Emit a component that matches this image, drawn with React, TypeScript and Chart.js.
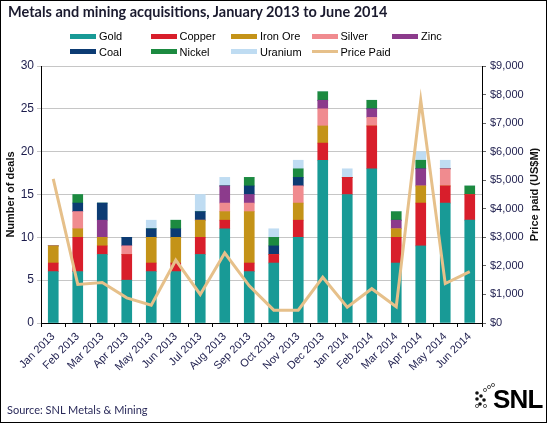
import { useEffect, useRef } from "react";
import { Chart, registerables } from "chart.js";

Chart.register(...registerables);

const months = [
  "Jan 2013", "Feb 2013", "Mar 2013", "Apr 2013", "May 2013", "Jun 2013",
  "Jul 2013", "Aug 2013", "Sep 2013", "Oct 2013", "Nov 2013", "Dec 2013",
  "Jan 2014", "Feb 2014", "Mar 2014", "Apr 2014", "May 2014", "Jun 2014",
];

// number of deals per metal, stacked bottom to top
const gold = [6, 6, 8, 5, 6, 6, 8, 11, 6, 7, 10, 19, 15, 18, 7, 9, 14, 12];
const copper = [1, 4, 1, 3, 1, 1, 2, 1, 1, 1, 2, 2, 2, 5, 3, 5, 2, 3];
const ironOre = [2, 1, 1, 0, 3, 3, 2, 1, 6, 0, 2, 2, 0, 0, 1, 2, 0, 0];
const silver = [0, 2, 0, 1, 0, 0, 0, 1, 1, 0, 2, 2, 0, 1, 0, 0, 2, 0];
const zinc = [0, 0, 2, 0, 0, 0, 0, 2, 1, 0, 0, 1, 0, 1, 1, 2, 0, 0];
const coal = [0, 1, 2, 1, 1, 1, 1, 0, 1, 1, 1, 0, 0, 0, 0, 0, 0, 0];
const nickel = [0, 1, 0, 0, 0, 1, 0, 0, 1, 1, 1, 1, 0, 1, 1, 1, 0, 1];
const uranium = [0, 0, 0, 0, 1, 0, 2, 1, 0, 1, 1, 0, 1, 0, 0, 1, 1, 0];

// price paid, US$M
const pricePaid = [
  5050, 1350, 1420, 880, 620, 2200, 1000, 2450, 1300, 450, 450, 1600,
  550, 1200, 570, 7800, 1380, 1800,
];

const metals = [
  { label: "Gold", data: gold, color: "#189a96" },
  { label: "Copper", data: copper, color: "#d81e2b" },
  { label: "Iron Ore", data: ironOre, color: "#c49318" },
  { label: "Silver", data: silver, color: "#f08b8f" },
  { label: "Zinc", data: zinc, color: "#8c3b8c" },
  { label: "Coal", data: coal, color: "#0c3b73" },
  { label: "Nickel", data: nickel, color: "#1c8a40" },
  { label: "Uranium", data: uranium, color: "#bfdcf2" },
];
const priceColor = "#e6c08a";

const legendItems = [
  ...metals.map((m) => ({ label: m.label, color: m.color, line: false })),
  { label: "Price Paid", color: priceColor, line: true },
];

const FONT = "Arial, 'Liberation Sans', sans-serif";
const TICK_COLOR = "#1c1c4c";

// draws the right axis title reading bottom to top
const rightTitlePlugin = {
  id: "rightTitle",
  afterDraw(chart: any) {
    const { ctx, chartArea } = chart;
    ctx.save();
    ctx.translate(535, (chartArea.top + chartArea.bottom) / 2);
    ctx.rotate(-Math.PI / 2);
    ctx.font = `bold 11px ${FONT}`;
    ctx.fillStyle = "#111";
    ctx.textAlign = "center";
    ctx.textBaseline = "middle";
    ctx.fillText("Price paid (US$M)", 0, 0);
    ctx.restore();
  },
};

export default function App() {
  const canvasRef = useRef<HTMLCanvasElement | null>(null);
  const chartRef = useRef<Chart | null>(null);

  useEffect(() => {
    if (!canvasRef.current) return;
    const ctx = canvasRef.current.getContext("2d");
    if (!ctx) return;

    const datasets: any[] = metals.map((m) => ({
      type: "bar",
      label: m.label,
      data: m.data,
      backgroundColor: m.color,
      borderWidth: 0,
      barThickness: 10,
      stack: "deals",
      yAxisID: "y",
      order: 1,
    }));
    datasets.push({
      type: "line",
      label: "Price Paid",
      data: pricePaid,
      borderColor: priceColor,
      borderWidth: 3,
      pointRadius: 0,
      tension: 0,
      yAxisID: "y1",
      order: 0,
    });

    chartRef.current = new Chart(ctx, {
      type: "bar",
      data: { labels: months, datasets },
      options: {
        animation: false,
        responsive: false,
        layout: { padding: { top: 66, left: 0, right: 0, bottom: 0 } },
        plugins: {
          legend: { display: false },
          tooltip: { enabled: false },
        },
        scales: {
          x: {
            stacked: true,
            afterFit: (s: any) => {
              s.height = 100;
            },
            grid: {
              display: true,
              drawOnChartArea: false,
              offset: true,
              tickLength: 4,
              color: "#000",
            },
            border: { color: "#000" },
            ticks: {
              minRotation: 45,
              maxRotation: 45,
              autoSkip: false,
              color: TICK_COLOR,
              font: { family: FONT, size: 11 },
            },
          },
          y: {
            stacked: true,
            position: "left",
            min: 0,
            max: 30,
            afterFit: (s: any) => {
              s.width = 41;
            },
            ticks: {
              stepSize: 5,
              color: TICK_COLOR,
              padding: 3,
              font: { family: FONT, size: 12 },
            },
            grid: { color: "#c6c6c6", tickLength: 4 },
            border: { color: "#000" },
            title: {
              display: true,
              text: "Number of deals",
              color: "#111",
              font: { family: FONT, size: 11, weight: "bold" },
            },
          },
          y1: {
            position: "right",
            min: 0,
            max: 9000,
            afterFit: (s: any) => {
              s.width = 65;
            },
            ticks: {
              stepSize: 1000,
              color: TICK_COLOR,
              padding: 4,
              font: { family: FONT, size: 11 },
              callback: (v: any) => "$" + Number(v).toLocaleString("en-US"),
            },
            grid: { drawOnChartArea: false, tickLength: 4, color: "#666" },
            border: { color: "#000" },
          },
        },
      } as any,
      plugins: [rightTitlePlugin],
    });

    return () => {
      chartRef.current?.destroy();
      chartRef.current = null;
    };
  }, []);

  return (
    <div
      style={{
        position: "absolute",
        left: 0,
        top: 0,
        width: 547,
        height: 423,
        background: "#fff",
        fontFamily: FONT,
      }}
    >
      <canvas
        ref={canvasRef}
        width={547}
        height={423}
        style={{ position: "absolute", left: 0, top: 0, width: 547, height: 423 }}
      ></canvas>
      <div
        style={{
          position: "absolute",
          left: 0,
          top: 0,
          width: 547,
          height: 423,
          border: "1px solid #000",
          boxSizing: "border-box",
          pointerEvents: "none",
        }}
      ></div>
      <div
        style={{
          position: "absolute",
          left: 8,
          top: 3,
          fontFamily: "Lato, sans-serif",
          fontWeight: "bold",
          fontSize: 14.5,
          color: "#1a1a2e",
          whiteSpace: "nowrap",
        }}
      >
        Metals and mining acquisitions, January 2013 to June 2014
      </div>
      {legendItems.map((item, i) => {
        const col = i % 5;
        const row = Math.floor(i / 5);
        return (
          <div
            key={item.label}
            style={{
              position: "absolute",
              left: 70 + col * 80.5,
              top: 30 + row * 15.5,
              display: "flex",
              alignItems: "center",
              fontSize: 11,
              color: "#000",
              whiteSpace: "nowrap",
            }}
          >
            <span
              style={{
                display: "inline-block",
                width: 26,
                height: item.line ? 3 : 5,
                background: item.color,
                marginRight: 3,
              }}
            ></span>
            {item.label}
          </div>
        );
      })}
      <div
        style={{
          position: "absolute",
          left: 7,
          top: 403,
          fontFamily: "Lato, sans-serif",
          fontSize: 11,
          color: "#2a2a5a",
        }}
      >
        Source: SNL Metals &amp; Mining
      </div>
      <svg
        width={30}
        height={30}
        style={{ position: "absolute", left: 470, top: 380 }}
      >
        {[
          [7, 13],
          [11, 16],
          [7, 19],
          [14, 20],
          [10, 24],
        ].map(([cx, cy], i) => (
          <circle key={"f" + i} cx={cx} cy={cy} r={1.8} fill="#111" />
        ))}
        {[
          [15, 10],
          [19, 7],
          [23, 5],
          [7, 26],
          [15, 26],
        ].map(([cx, cy], i) => (
          <circle
            key={"h" + i}
            cx={cx}
            cy={cy}
            r={1.6}
            fill="none"
            stroke="#333"
            strokeWidth={0.8}
          />
        ))}
      </svg>
      <div
        style={{
          position: "absolute",
          left: 493,
          top: 384,
          fontSize: 26,
          fontWeight: "bold",
          color: "#000",
          letterSpacing: -0.8,
          lineHeight: "30px",
        }}
      >
        SNL
      </div>
    </div>
  );
}
